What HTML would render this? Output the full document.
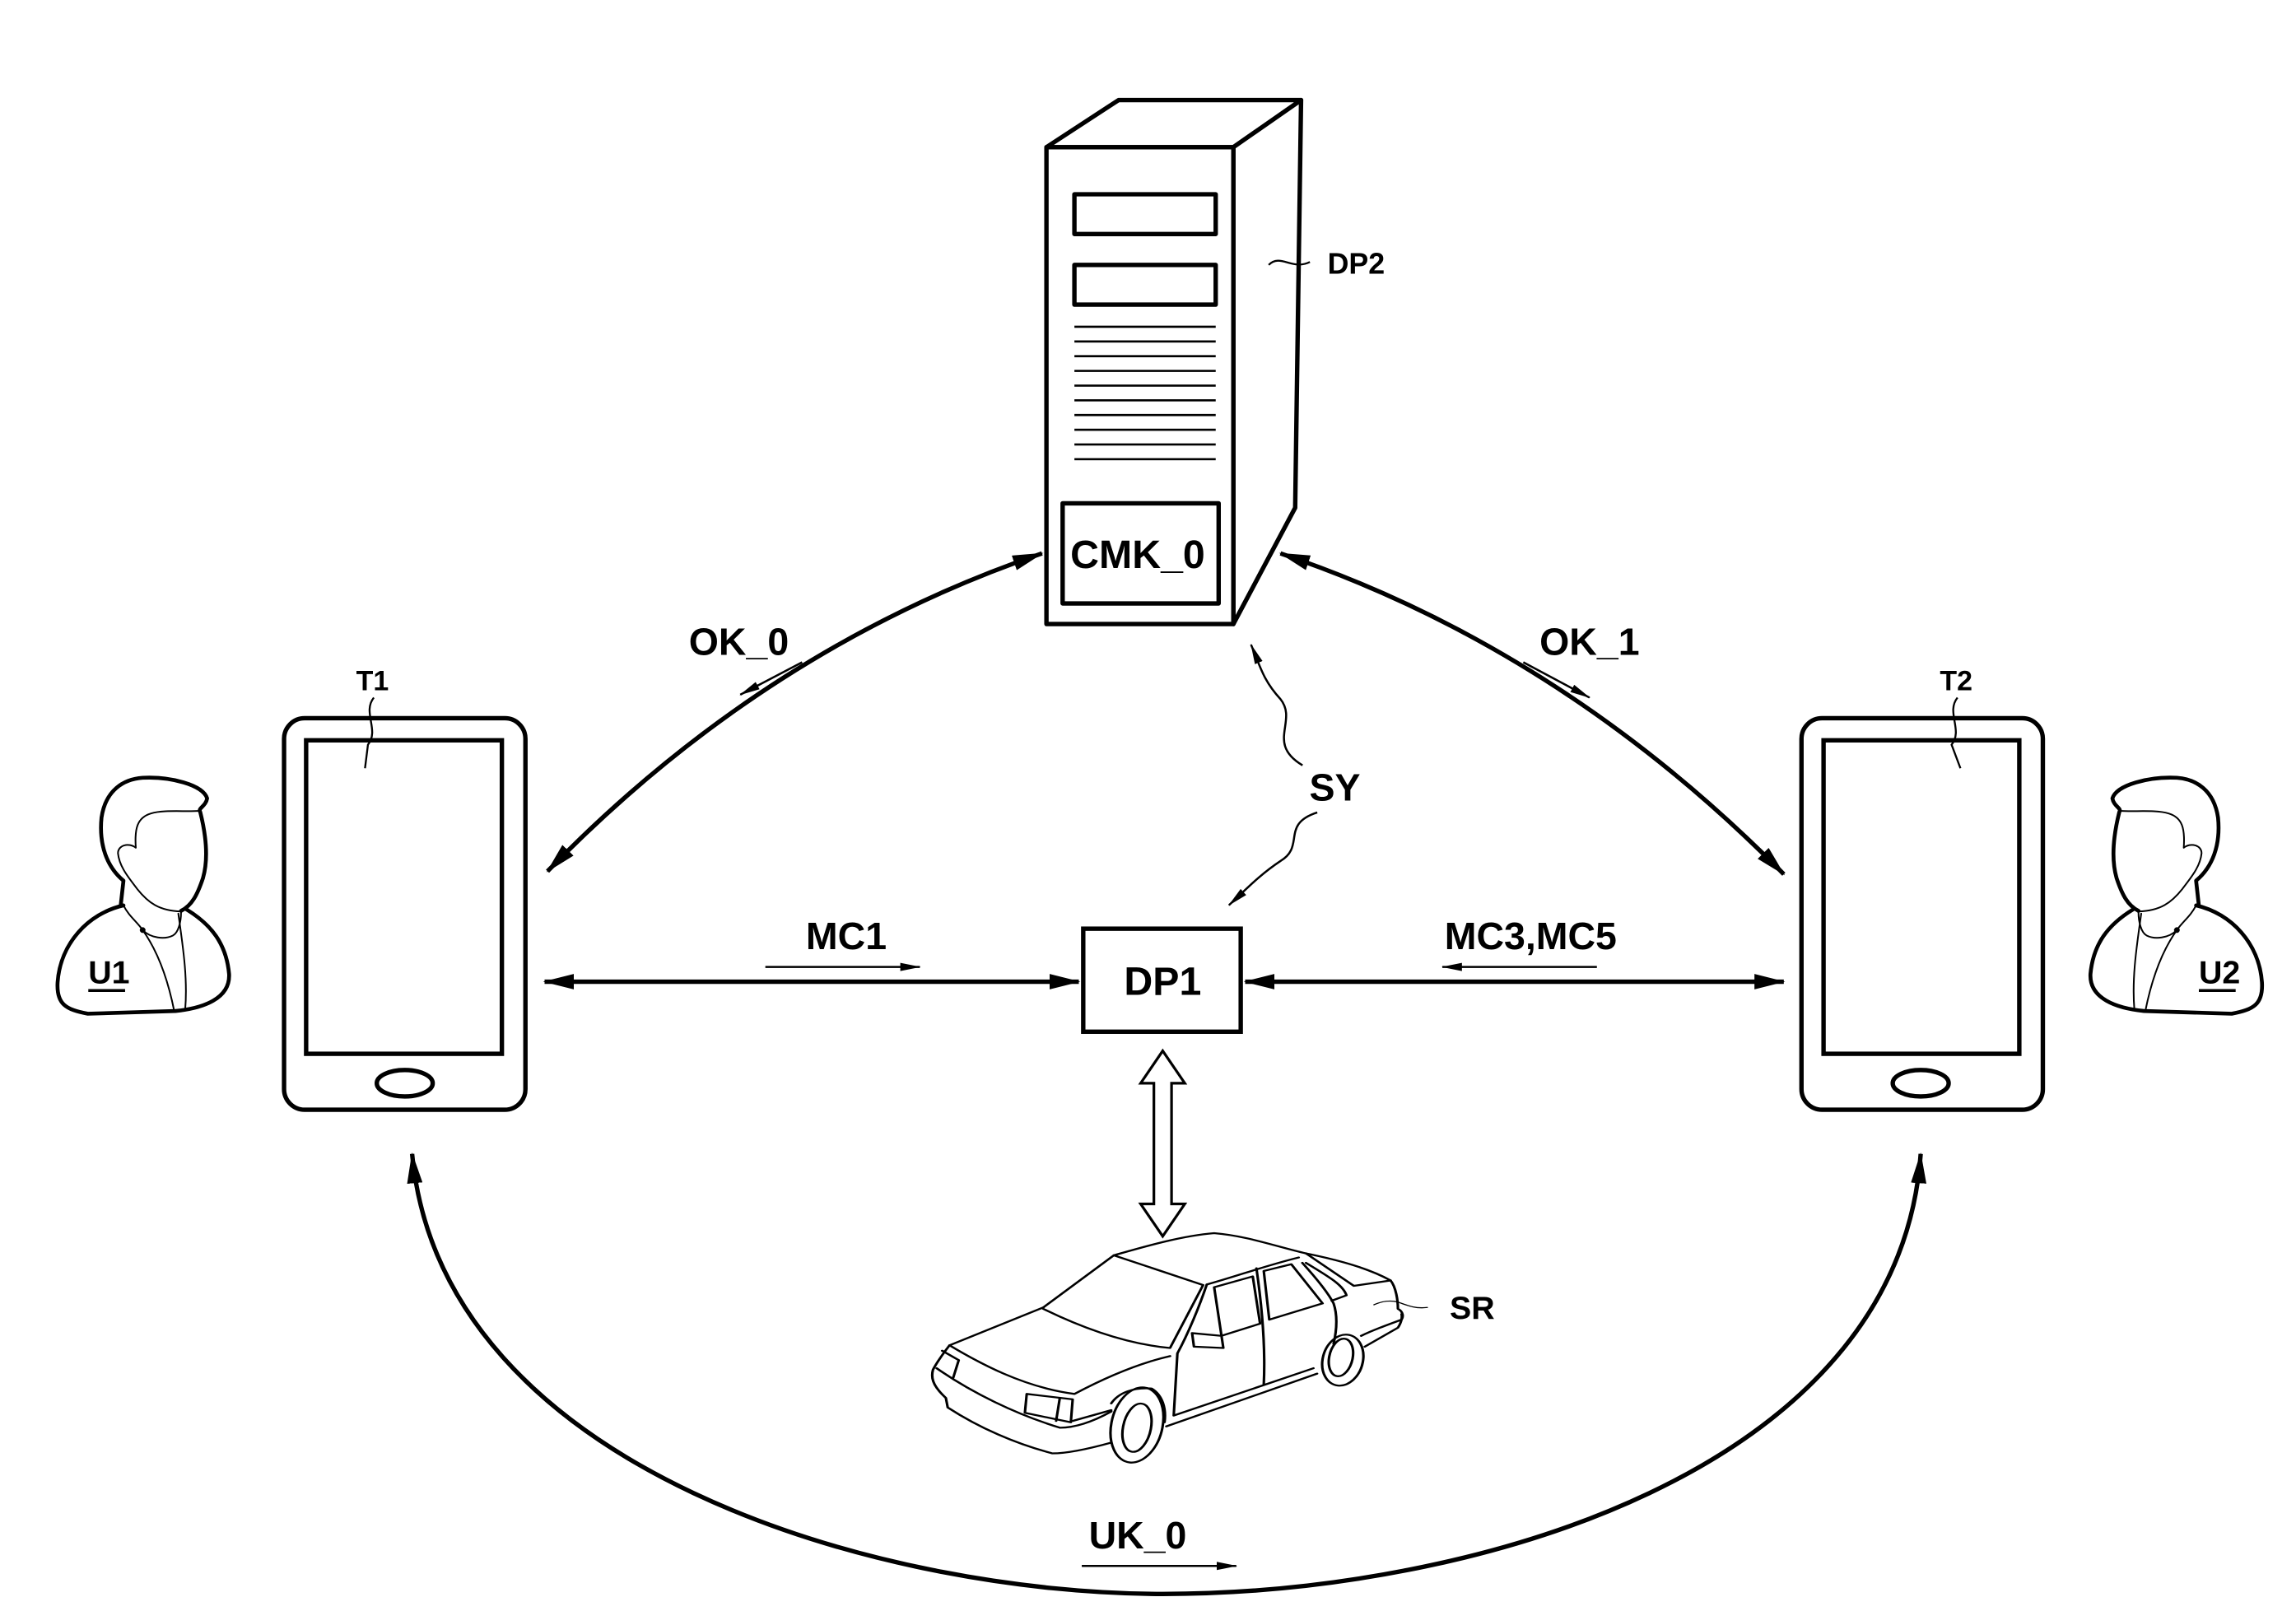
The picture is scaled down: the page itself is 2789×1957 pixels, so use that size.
<!DOCTYPE html>
<html><head><meta charset="utf-8"><style>
html,body{margin:0;padding:0;background:#fff;}
svg{display:block;}
text{font-family:"Liberation Sans Narrow","Liberation Sans",sans-serif;font-weight:bold;fill:#000;}
</style></head><body>
<svg width="2789" height="1957" viewBox="0 0 1560 1094.6" preserveAspectRatio="none" xmlns="http://www.w3.org/2000/svg">
<defs>
<marker id="ah" viewBox="0 0 20 10" refX="19" refY="5" markerWidth="7" markerHeight="3.5" orient="auto-start-reverse" markerUnits="strokeWidth">
<path d="M0,0 L20,5 L0,10 Z" fill="#000"/>
</marker>
<marker id="sa" viewBox="0 0 20 10" refX="19" refY="5" markerWidth="10" markerHeight="5" orient="auto" markerUnits="strokeWidth">
<path d="M0,1 L20,5 L0,9 Z" fill="#000"/>
</marker>
<g id="person" fill="none" stroke="#000" stroke-linecap="round" stroke-linejoin="round">
<path stroke-width="14" d="M330,540 C200,570 100,680 90,820 C85,900 120,920 200,935 L520,925 C620,915 720,880 715,790 C705,680 650,610 560,555"/>
<path stroke-width="14" d="M320,540 L330,450 C270,400 240,320 250,220 C265,120 330,80 400,75 C500,70 620,100 635,150 C630,180 600,185 610,200 C630,280 640,370 620,440 C600,500 580,540 540,560"/>
<path stroke-width="6" d="M610,195 C560,200 480,190 430,205 C380,220 370,260 375,330 C350,310 310,320 310,350 C315,400 350,440 380,480 C420,530 460,560 540,562"/>
<path stroke-width="6" d="M330,540 C350,580 380,600 400,630 C430,660 480,665 510,650 C530,640 540,600 540,565"/>
<path stroke-width="6" d="M400,630 C450,700 490,800 515,925 M530,570 C545,680 565,800 555,920"/>
<circle cx="400" cy="630" r="10" fill="#000"/>
</g>
</defs>

<!-- Server -->
<g fill="#fff" stroke="#000" stroke-width="3" stroke-linejoin="round">
<polygon points="711,100 760,68 884,68 838,100"/>
<polygon points="838,100 884,68 880,345 838,424"/>
<rect x="711" y="100" width="127" height="324"/>
<rect x="730" y="132" width="96" height="27"/>
<rect x="730" y="180" width="96" height="27"/>
<rect x="722" y="342" width="106" height="68"/>
</g>
<g stroke="#000" stroke-width="1.5">
<line x1="730" y1="222" x2="826" y2="222"/><line x1="730" y1="232" x2="826" y2="232"/>
<line x1="730" y1="242" x2="826" y2="242"/><line x1="730" y1="252" x2="826" y2="252"/>
<line x1="730" y1="262" x2="826" y2="262"/><line x1="730" y1="272" x2="826" y2="272"/>
<line x1="730" y1="282" x2="826" y2="282"/><line x1="730" y1="292" x2="826" y2="292"/>
<line x1="730" y1="302" x2="826" y2="302"/><line x1="730" y1="312" x2="826" y2="312"/>
</g>
<text x="773" y="386" font-size="27" text-anchor="middle">CMK_0</text>
<path d="M862,180 C870,172 878,184 890,178" fill="none" stroke="#000" stroke-width="1.3"/>
<text x="902" y="186" font-size="20">DP2</text>

<!-- Tablets -->
<g fill="none" stroke="#000" stroke-width="3">
<rect x="193" y="488" width="164" height="266" rx="14"/>
<rect x="208" y="503" width="133" height="213"/>
<ellipse cx="275" cy="736" rx="19" ry="9"/>
<rect x="1224" y="488" width="164" height="266" rx="14"/>
<rect x="1239" y="503" width="133" height="213"/>
<ellipse cx="1305" cy="736" rx="19" ry="9"/>
</g>
<text x="242" y="469" font-size="19">T1</text>
<path d="M254,474 C246,484 258,496 250,506 L248,522" fill="none" stroke="#000" stroke-width="1.3"/>
<text x="1318" y="469" font-size="19">T2</text>
<path d="M1330,474 C1322,484 1334,496 1326,506 L1332,522" fill="none" stroke="#000" stroke-width="1.3"/>

<!-- Persons -->
<use href="#person" transform="translate(22.37,514.5) scale(0.1864)"/>
<use href="#person" transform="translate(1576,0) scale(-1,1) translate(22.37,514.5) scale(0.1864)"/>
<text x="60" y="668" font-size="22">U1</text>
<line x1="60" y1="673" x2="85" y2="673" stroke="#000" stroke-width="2"/>
<text x="1494" y="668" font-size="22">U2</text>
<line x1="1494" y1="673" x2="1519" y2="673" stroke="#000" stroke-width="2"/>

<!-- DP1 -->
<rect x="736" y="631" width="107" height="70" fill="#fff" stroke="#000" stroke-width="3"/>
<text x="790" y="676" font-size="27" text-anchor="middle">DP1</text>

<!-- Connectors -->
<g fill="none" stroke="#000" stroke-width="3">
<line x1="370" y1="667" x2="733" y2="667" marker-start="url(#ah)" marker-end="url(#ah)"/>
<line x1="846" y1="667" x2="1212" y2="667" marker-start="url(#ah)" marker-end="url(#ah)"/>
<path d="M372,592 Q520,440 708,376" marker-start="url(#ah)" marker-end="url(#ah)"/>
<path d="M870,376 Q1060,440 1212,594" marker-start="url(#ah)" marker-end="url(#ah)"/>
<path d="M280,784 C300,1000 600,1083 790,1083 C1000,1083 1290,1000 1305,784" marker-start="url(#ah)" marker-end="url(#ah)"/>
</g>
<g fill="none" stroke="#000" stroke-width="1.4">
<line x1="520" y1="657" x2="625" y2="657" marker-end="url(#sa)"/>
<line x1="1085" y1="657" x2="980" y2="657" marker-end="url(#sa)"/>
<line x1="545" y1="450" x2="503" y2="472" marker-end="url(#sa)"/>
<line x1="1035" y1="450" x2="1080" y2="474" marker-end="url(#sa)"/>
<line x1="735" y1="1064" x2="840" y2="1064" marker-end="url(#sa)"/>
<path d="M885,520 C860,505 882,490 870,475 C858,462 856,452 850,438" marker-end="url(#sa)"/>
<path d="M895,552 C870,560 887,575 870,585 C855,595 846,605 835,615" marker-end="url(#sa)"/>
</g>
<text x="575" y="645" font-size="26" text-anchor="middle">MC1</text>
<text x="1040" y="645" font-size="26" text-anchor="middle">MC3,MC5</text>
<text x="502" y="445" font-size="26" text-anchor="middle">OK_0</text>
<text x="1080" y="445" font-size="26" text-anchor="middle">OK_1</text>
<text x="907" y="544" font-size="26" text-anchor="middle">SY</text>
<text x="773" y="1052" font-size="26" text-anchor="middle">UK_0</text>

<!-- Hollow double arrow -->
<polygon points="790,714 805,736 796,736 796,818 805,818 790,840 775,818 784,818 784,736 775,736" fill="#fff" stroke="#000" stroke-width="1.8" stroke-linejoin="miter"/>

<!-- Car -->
<g transform="translate(615.2,814) scale(0.2497,0.1836)" fill="none" stroke="#000" stroke-width="7" stroke-linecap="round" stroke-linejoin="round">
<path d="M375,405 L567,212 C650,180 750,140 840,130 C930,140 1010,180 1090,205 C1180,230 1260,260 1320,305 C1335,330 1340,380 1340,410 C1355,420 1355,440 1350,450 C1310,470 1270,490 1240,510"/>
<path d="M567,212 L810,322 L720,555 C600,540 480,480 375,410"/>
<path d="M375,405 L120,545 C200,610 320,700 460,725 C550,660 640,610 720,585"/>
<path d="M120,545 C100,580 85,610 75,635 C70,660 70,690 110,740 L115,775 C200,850 300,910 400,945 C450,945 520,920 560,905"/>
<path d="M85,630 C180,720 300,800 420,850 C470,850 520,820 560,790"/>
<path d="M100,565 L145,600 L130,665"/>
<path d="M330,725 L455,745 L450,830 L325,795 Z M420,740 L410,825"/>
<path d="M455,825 L560,785"/>
<ellipse cx="630" cy="840" rx="70" ry="140" transform="rotate(8 630 840)"/>
<ellipse cx="630" cy="850" rx="38" ry="90" transform="rotate(8 630 850)"/>
<path d="M560,760 C580,720 620,700 670,705 C700,730 710,780 705,830"/>
<path d="M820,320 C800,400 770,500 740,575 L730,805 L1110,630"/>
<path d="M710,845 L1120,650"/>
<path d="M820,320 C900,290 980,250 1070,220"/>
<path d="M955,260 C970,400 980,550 975,690"/>
<path d="M840,330 L945,290 L965,465 L860,510 Z"/>
<path d="M975,270 L1050,245 L1135,390 L990,450 Z"/>
<path d="M1080,240 C1120,300 1150,350 1165,390 C1175,430 1175,480 1165,540"/>
<path d="M1090,240 C1150,290 1190,320 1200,360 L1160,380"/>
<path d="M1090,205 L1220,325 L1320,305"/>
<path d="M780,500 L860,510 L865,555 L785,550 Z"/>
<ellipse cx="1190" cy="600" rx="55" ry="95" transform="rotate(8 1190 600)"/>
<ellipse cx="1185" cy="590" rx="32" ry="70" transform="rotate(8 1185 590)"/>
<path d="M1250,550 L1340,480 C1350,460 1352,440 1350,430"/>
<path d="M1275,395 C1300,380 1320,378 1340,385 C1370,400 1390,410 1420,405" stroke-width="4"/>
</g>
<text x="985" y="896" font-size="22">SR</text>
</svg>
</body></html>
